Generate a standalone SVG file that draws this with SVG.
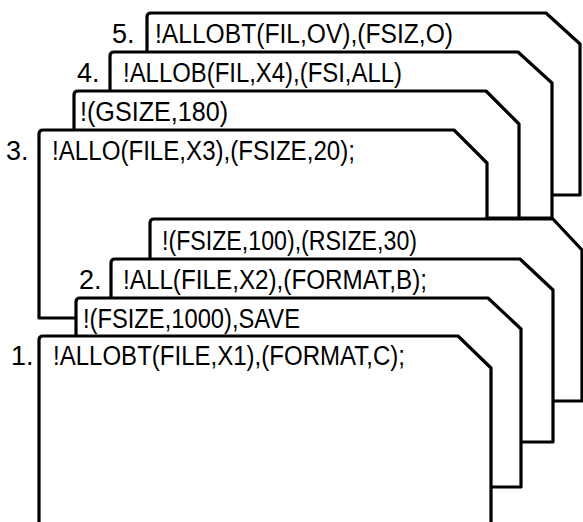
<svg xmlns="http://www.w3.org/2000/svg" width="583" height="522" viewBox="0 0 583 522">
<style>
.card{fill:#fff;stroke:#000;stroke-width:3.2;stroke-linejoin:round}
.t{font-family:"Liberation Sans",Arial,sans-serif;font-size:27px;fill:#000}
</style>
<rect width="583" height="522" fill="#fff"/>
<g id="card5">
<path class="card" d="M147,195 L147,17 Q147,13 151,13 L546,13 L580,44 L580,195 Z"/>
<text class="t" x="112" y="43">5.</text>
<text class="t" x="155" y="43" textLength="298" lengthAdjust="spacingAndGlyphs">!ALLOBT(FIL,OV),(FSIZ,O)</text>
</g>
<g id="card4">
<path class="card" d="M110,218 L110,56 Q110,52 114,52 L518,52 L552,83 L552,218 Z"/>
<text class="t" x="77" y="82">4.</text>
<text class="t" x="123" y="82" textLength="279" lengthAdjust="spacingAndGlyphs">!ALLOB(FIL,X4),(FSI,ALL)</text>
</g>
<g id="card-gsize">
<path class="card" d="M74,218 L74,95 Q74,91 78,91 L486,91 L519,124 L519,218 Z"/>
<text class="t" x="80" y="121" textLength="148" lengthAdjust="spacingAndGlyphs">!(GSIZE,180)</text>
</g>
<g id="card3">
<path class="card" d="M39,318 L39,134 Q39,130 43,130 L454,130 L487,163 L487,318 Z"/>
<text class="t" x="6" y="160">3.</text>
<text class="t" x="52" y="160" textLength="303" lengthAdjust="spacingAndGlyphs">!ALLO(FILE,X3),(FSIZE,20);</text>
</g>
<g id="card-fsize100">
<path class="card" d="M150,401 L150,223 Q150,219 154,219 L553,219 L582,250 L582,401 Z"/>
<text class="t" x="162" y="250" textLength="255" lengthAdjust="spacingAndGlyphs">!(FSIZE,100),(RSIZE,30)</text>
</g>
<g id="card2">
<path class="card" d="M111,442 L111,263 Q111,259 115,259 L520,259 L553,290 L553,442 Z"/>
<text class="t" x="79" y="289">2.</text>
<text class="t" x="123" y="289" textLength="304" lengthAdjust="spacingAndGlyphs">!ALL(FILE,X2),(FORMAT,B);</text>
</g>
<g id="card-fsize1000">
<path class="card" d="M76,487 L76,302 Q76,298 80,298 L488,298 L521,329 L521,487 Z"/>
<text class="t" x="83" y="328" textLength="217" lengthAdjust="spacingAndGlyphs">!(FSIZE,1000),SAVE</text>
</g>
<g id="card1">
<path class="card" d="M39,530 L39,340 Q39,336 43,336 L458,336 L491,368 L491,530 Z"/>
<text class="t" x="11" y="365">1.</text>
<text class="t" x="53" y="365" textLength="352" lengthAdjust="spacingAndGlyphs">!ALLOBT(FILE,X1),(FORMAT,C);</text>
</g>
</svg>
